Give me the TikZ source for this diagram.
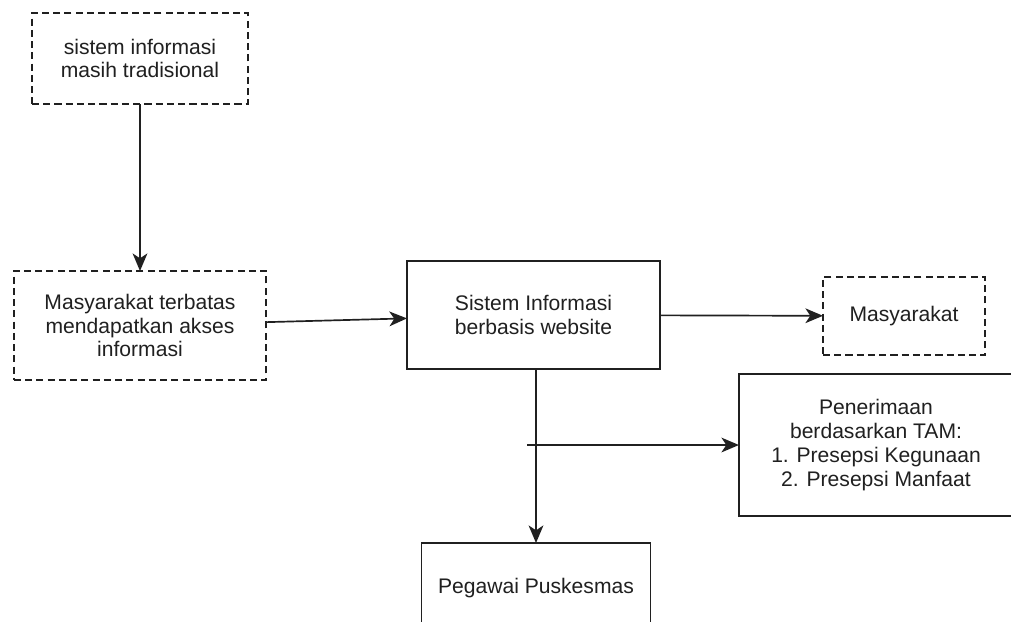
\documentclass[tikz,border=0pt]{standalone}
\usepackage{fontspec}
\setmainfont{Liberation Sans}
\usetikzlibrary{arrows.meta,calc}
\definecolor{ink}{HTML}{202020}
\tikzset{
  box/.style={draw=ink,line width=1.2pt,fill=white,align=center,inner sep=0pt,outer sep=0pt,
    font=\fontsize{15pt}{17pt}\selectfont,text=ink},
  dbox/.style={box,dash pattern=on 5pt off 3pt},
  ar/.style={-{Stealth[length=12.5pt,width=10.5pt,inset=3.5pt]},line width=1.2pt,draw=ink},
}
\begin{document}
\begin{tikzpicture}[x=0.025cm,y=-0.025cm]
  \useasboundingbox (0,0) rectangle (1011,621);
  \node[dbox, minimum width=5.4cm, minimum height=2.275cm] (trad) at (140,58.5) {sistem informasi\\masih tradisional};
  \node[dbox, minimum width=6.3cm, minimum height=2.725cm] (batas) at (140,325.5) {Masyarakat terbatas\\mendapatkan akses\\informasi};
  \node[box, minimum width=6.325cm, minimum height=2.7cm] (sis) at (533.5,315) {Sistem Informasi\\berbasis website};
  \node[dbox, minimum width=4.05cm, minimum height=1.95cm] (masy) at (904,316) {Masyarakat};
  \node[box, minimum width=6.85cm, minimum height=3.55cm] (tam) at (876,445) {Penerimaan\\berdasarkan TAM:\\1. Presepsi Kegunaan\\2. Presepsi Manfaat};
  \node[box, minimum width=5.725cm, minimum height=2.25cm] (peg) at (536,588) {Pegawai Puskesmas};
  \coordinate (br) at (527,445);
  \draw[ar] (trad) -- (batas);
  \draw[ar] (batas) -- (sis);
  \draw[ar] (sis) -- (masy);
  \draw[ar] (sis.south -| peg.north) -- (peg.north);
  \draw[ar] (br) -- (tam.west);
\end{tikzpicture}
\end{document}
